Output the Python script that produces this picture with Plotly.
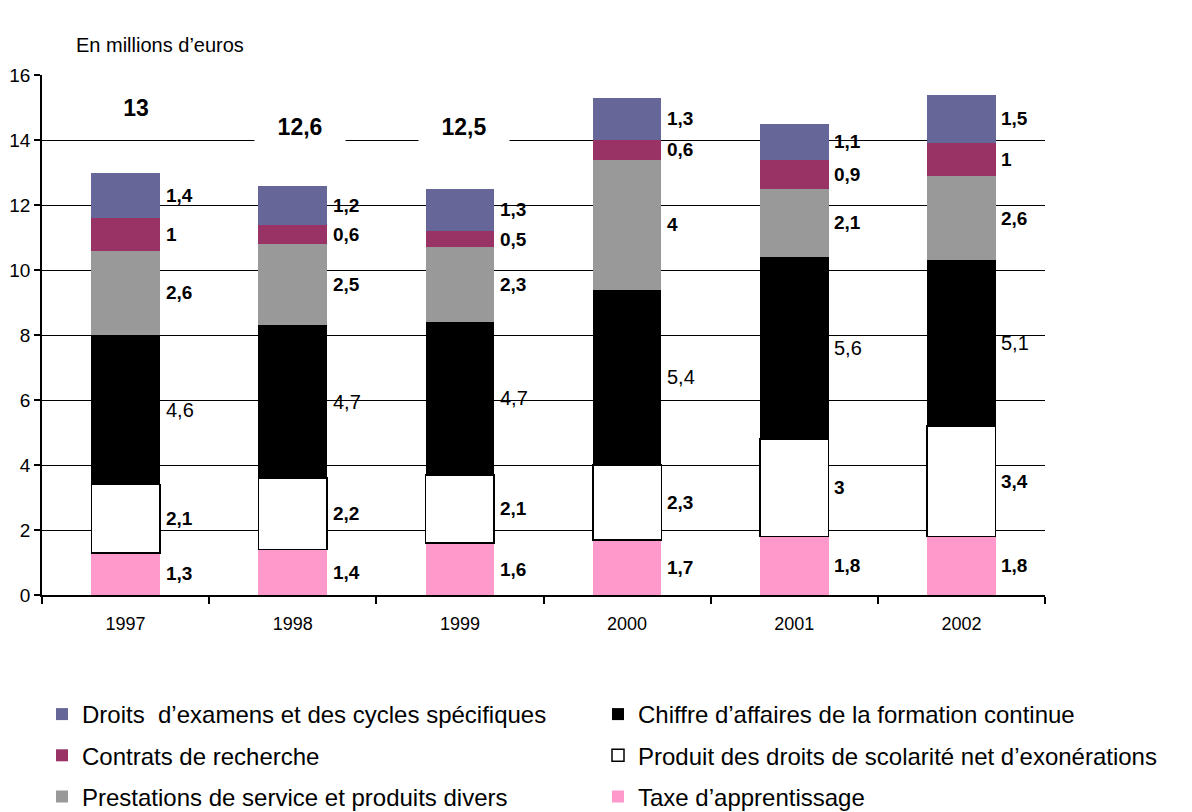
import plotly.graph_objects as go

years = ["1997", "1998", "1999", "2000", "2001", "2002"]
taxe = [1.3, 1.4, 1.6, 1.7, 1.8, 1.8]
produit = [2.1, 2.2, 2.1, 2.3, 3.0, 3.4]
chiffre = [4.6, 4.7, 4.7, 5.4, 5.6, 5.1]
prestations = [2.6, 2.5, 2.3, 4.0, 2.1, 2.6]
contrats = [1.0, 0.6, 0.5, 0.6, 0.9, 1.0]
droits = [1.4, 1.2, 1.3, 1.3, 1.1, 1.5]
totals = ["13", "12,6", "12,5", "15,3", "14,5", "15,5*"]

# (name, values, colour, legend, legend rank, bold label)
series = [
    ("Taxe d’apprentissage", taxe, "#FF99CC", "legend2", 3, True),
    ("Produit des droits de scolarité net d’exonérations", produit, "#FFFFFF", "legend2", 2, True),
    ("Chiffre d’affaires de la formation continue", chiffre, "#000000", "legend2", 1, False),
    ("Prestations de service et produits divers", prestations, "#999999", "legend", 3, True),
    ("Contrats de recherche", contrats, "#993366", "legend", 2, True),
    ("Droits  d’examens et des cycles spécifiques", droits, "#666699", "legend", 1, True),
]

FONT = "Liberation Sans, Arial, sans-serif"

# the page has an 8px body margin; geometry below is in figure pixels
W, H = 1184, 804
L, R, T, B = 34, 1037, 67, 587

def px_x(p):
    return (p - L) / (R - L)

def px_y(p):
    return (B - p) / (B - T)

fig = go.Figure()
for name, vals, color, leg, rank, bold in series:
    is_white = color == "#FFFFFF"
    fig.add_trace(go.Bar(
        x=years, y=vals, name=name, legend=leg, legendgroup=name,
        legendrank=rank,
        marker=dict(color=color,
                    line=dict(color="#000000" if is_white else color,
                              width=1.5 if is_white else 0)),
    ))

def fmt(v):
    return ("%g" % v).replace(".", ",")

annotations = []
cum = [0.0] * len(years)
for name, vals, color, leg, rank, bold in series:
    for j, v in enumerate(vals):
        mid = cum[j] + v / 2
        cum[j] += v
        txt = fmt(v)
        if bold:
            txt = "<b>" + txt + "</b>"
        annotations.append(dict(
            x=j, y=mid, xref="x", yref="y", text=txt, showarrow=False,
            xanchor="left", yanchor="middle", xshift=38,
            font=dict(family=FONT, size=19 if bold else 20, color="#000000"),
        ))

total_label_y = [14.98, 14.4, 14.4, 17.14, 16.46, 17.69]
total_label_dx = [10, 7, 4, 0, 0, 5]
for j, t in enumerate(totals):
    annotations.append(dict(
        x=j, y=total_label_y[j], xref="x", yref="y",
        text="<b>" + t + "</b>", showarrow=False, xshift=total_label_dx[j],
        bgcolor="#FFFFFF", width=88, height=38,
        font=dict(family=FONT, size=23, color="#000000"),
    ))

annotations.append(dict(
    x=px_x(66), y=px_y(37), xref="paper", yref="paper",
    text="En millions d’euros", showarrow=False,
    xanchor="left", yanchor="middle",
    font=dict(family=FONT, size=20, color="#000000"),
))

legend_common = dict(
    xanchor="left", yanchor="top", traceorder="grouped",
    tracegroupgap=7, font=dict(family=FONT, size=24, color="#000000"),
    bgcolor="rgba(0,0,0,0)",
)

fig.update_layout(
    width=W, height=H,
    margin=dict(l=L, r=W - R, t=T, b=H - B, autoexpand=False),
    paper_bgcolor="#FFFFFF", plot_bgcolor="#FFFFFF",
    barmode="stack", bargap=0.59,
    font=dict(family=FONT, color="#000000"),
    annotations=annotations,
    showlegend=True,
    legend=dict(x=px_x(34), y=px_y(684), **legend_common),
    legend2=dict(x=px_x(590), y=px_y(684), **legend_common),
    xaxis=dict(
        type="category", range=[-0.5, 5.5], tickson="boundaries",
        ticks="outside", ticklen=7, tickcolor="#000000", tickwidth=1.5,
        showline=True, linecolor="#000000", linewidth=1.5,
        showgrid=False, ticklabelstandoff=12,
        tickfont=dict(family=FONT, size=18, color="#000000"),
    ),
    yaxis=dict(
        range=[0, 16], dtick=2, tick0=0,
        ticks="outside", ticklen=6, tickcolor="#000000", tickwidth=1.5,
        showline=True, linecolor="#000000", linewidth=1.5,
        showgrid=True, gridcolor="#000000", gridwidth=1,
        zeroline=False,
        tickfont=dict(family=FONT, size=19, color="#000000"),
    ),
)

fig.write_html("out.html")
